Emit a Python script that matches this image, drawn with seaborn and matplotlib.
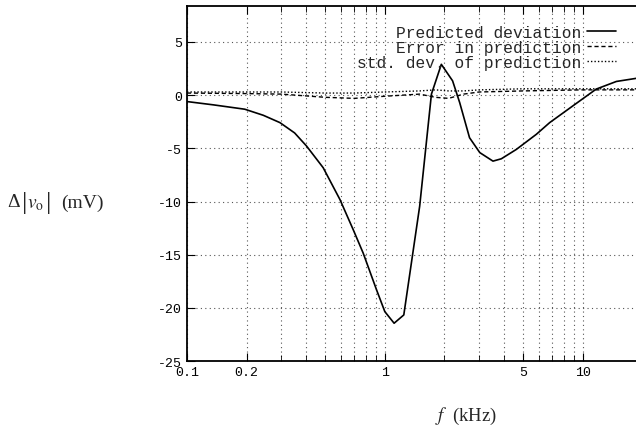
import numpy as np
import pandas as pd
import seaborn as sns
import matplotlib
matplotlib.use('Agg')
import matplotlib.pyplot as plt
from matplotlib.ticker import FixedLocator, FixedFormatter, LogLocator, NullFormatter

# frequency (kHz) and deviation (mV)
f_pred = [0.1, 0.136, 0.196, 0.243, 0.295, 0.35, 0.402, 0.488, 0.593, 0.692, 0.777, 0.908,
          1.0, 1.114, 1.247, 1.50, 1.72, 1.93, 2.2, 2.39, 2.68, 3.02, 3.52, 3.88, 4.62,
          5.83, 6.81, 8.93, 11.7, 14.8, 18.6]
pred = [-0.6, -0.91, -1.32, -1.89, -2.58, -3.55, -4.78, -6.82, -9.81, -12.64, -14.84, -18.3,
        -20.35, -21.44, -20.66, -10.44, 0.1, 2.9, 1.35, -0.7, -4.0, -5.4, -6.2, -5.98, -5.1,
        -3.68, -2.58, -1.0, 0.57, 1.29, 1.58]

f_err = [0.1, 0.2, 0.3, 0.5, 0.7, 1.0, 1.5, 1.8, 2.1, 2.5, 3.0, 5.0, 10.0, 18.6]
err = [0.2, 0.15, 0.1, -0.2, -0.3, -0.1, 0.1, -0.2, -0.3, 0.1, 0.3, 0.4, 0.5, 0.5]
std = [0.3, 0.3, 0.3, 0.2, 0.2, 0.3, 0.4, 0.5, 0.4, 0.4, 0.5, 0.6, 0.6, 0.6]

xticks = [0.1, 0.2, 1, 5, 10]
xticklabels = ['0.1', '0.2', '1', '5', '10']
yticks = [-25, -20, -15, -10, -5, 0, 5]

sns.set_style('ticks')
plt.rcParams['font.family'] = ['Liberation Mono', 'DejaVu Sans Mono']
plt.rcParams['mathtext.fontset'] = 'stix'

df_pred = pd.DataFrame({'f': f_pred, 'v': pred})
df_err = pd.DataFrame({'f': f_err, 'err': err, 'std': std})

fig = plt.figure(figsize=(6.36, 4.27), dpi=100)
ax = fig.add_axes([0.294, 0.152, 0.706, 0.832])

sns.lineplot(data=df_pred, x='f', y='v', ax=ax, color='black', lw=1.2,
             label='Predicted deviation')
sns.lineplot(data=df_err, x='f', y='err', ax=ax, color='black', lw=1.0,
             linestyle=(0, (3, 2)), label='Error in prediction')
sns.lineplot(data=df_err, x='f', y='std', ax=ax, color='black', lw=1.0,
             linestyle=(0, (1, 1.5)), label='std. dev. of prediction')

ax.set_xscale('log')
ax.set_xlim(0.1, 18.6)
ax.set_ylim(-25, 8.4)
ax.xaxis.set_major_locator(FixedLocator(xticks))
ax.xaxis.set_major_formatter(FixedFormatter(xticklabels))
ax.xaxis.set_minor_locator(LogLocator(base=10, subs=np.arange(2, 10)))
ax.xaxis.set_minor_formatter(NullFormatter())
ax.set_yticks(yticks)
ax.set_yticklabels([str(v) for v in yticks])

ax.grid(True, which='both', axis='x', color='#555555', linestyle=(0, (1, 3)), lw=0.8)
ax.grid(True, which='major', axis='y', color='#555555', linestyle=(0, (1, 3)), lw=0.8)
ax.tick_params(which='both', direction='in', top=True, right=False, labelsize=9.5,
               colors='black')
ax.tick_params(which='major', length=6)
ax.tick_params(which='minor', length=4)
ax.spines['right'].set_visible(False)
for s in ['left', 'bottom', 'top']:
    ax.spines[s].set_linewidth(1.3)
    ax.spines[s].set_color('black')

ax.set_xlabel('')
ax.set_ylabel('')

leg = ax.legend(loc='upper right', bbox_to_anchor=(0.955, 0.946), frameon=False,
                markerfirst=False, fontsize=11.7, handlelength=1.8, handletextpad=0.35,
                labelspacing=0.0, borderpad=0.0, borderaxespad=0.0)

# y label built in pieces so the bars are tall like the original
W, H = 636.0, 427.0
yl = 1 - 203 / H
serif = 'Liberation Serif'
fig.text(7 / W, yl, '\u0394', family=serif, fontsize=14, va='center', ha='left')
fig.text(22 / W, yl, '|', family=serif, fontsize=19, va='center', ha='left')
fig.text(27 / W, yl - 0.004, r'$v_{\rm o}$', family=serif, fontsize=14, va='center', ha='left')
fig.text(46 / W, yl, '|', family=serif, fontsize=19, va='center', ha='left')
fig.text(61 / W, yl, '(mV)', family=serif, fontsize=14, va='center', ha='left')

fig.text(0.733, 0.024, r'$f$  (kHz)', family=serif, fontsize=13.5,
         va='center', ha='center')

fig.savefig('out.png', dpi=100)
